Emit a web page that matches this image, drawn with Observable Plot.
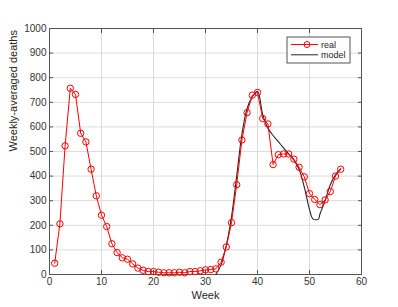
<!DOCTYPE html>
<html>
<head>
<meta charset="utf-8">
<script src="https://cdn.jsdelivr.net/npm/d3@7"></script>
<script src="https://cdn.jsdelivr.net/npm/@observablehq/plot@0.6"></script>
<style>
  html, body { margin: 0; padding: 0; background: #ffffff; }
  svg { display: block; }
</style>
</head>
<body>
<div id="chart"></div>
<script>
const realWeeks = [1,2,3,4,5,6,7,8,9,10,11,12,13,14,15,16,17,18,19,20,21,22,23,24,25,26,27,28,29,30,31,32,33,34,35,36,37,38,39,40,41,42,43,44,45,46,47,48,49,50,51,52,53,54,55,56];
const realDeaths = [46,206,523,757,732,574,539,428,320,241,195,125,89,68,62,43,26,17,12,12,9,7,7,7,9,7,12,12,15,19,20,23,50,112,211,365,547,658,729,740,634,612,447,487,490,490,469,436,397,329,305,284,303,337,400,428];
const modelWeeks = [32,33,34,35,36,37,38,39,40,41,42,43,44,45,46,47,48,49,50,50.7,51.7,52,53,54,55,56];
const modelDeaths = [0,40,118,235,400,570,675,722,745,650,595,565,540,515,490,465,428,355,265,225,225,245,300,365,405,430];
const xTicks = [0,10,20,30,40,50,60];
const yTicks = [0,100,200,300,400,500,600,700,800,900,1000];
const seriesNames = ["real","model"];
const seriesColors = ["#ff0000","#262626"];
const xLabel = "Week";
const yLabel = "Weekly-averaged deaths";

const real = realWeeks.map((w,i) => ({week: w, deaths: realDeaths[i]}));
const model = modelWeeks.map((w,i) => ({week: w, deaths: modelDeaths[i]}));

function legend(index, scales, values, dims) {
  const g = d3.create("svg:g")
    .attr("text-anchor", "start");
  const right = dims.width - dims.marginRight - 11;
  const top = dims.marginTop + 9;
  const w = 63, h = 26;
  g.append("rect").attr("x", right - w).attr("y", top).attr("width", w).attr("height", h)
    .attr("fill", "white").attr("stroke", "#555").attr("stroke-width", 1);
  seriesNames.forEach((name, i) => {
    const y = top + 7.5 + i * 10.3;
    const x0 = right - w + 4;
    g.append("line").attr("x1", x0).attr("x2", x0 + 27).attr("y1", y).attr("y2", y)
      .attr("stroke", seriesColors[i]).attr("stroke-width", 1);
    if (i === 0) {
      g.append("circle").attr("cx", x0 + 16).attr("cy", y).attr("r", 3)
        .attr("fill", "none").attr("stroke", seriesColors[i]).attr("stroke-width", 1);
    }
    g.append("text").attr("x", x0 + 30).attr("y", y).attr("dy", "0.35em")
      .attr("text-anchor", "start")
      .style("font-family", "Liberation Sans, Arial, sans-serif")
      .style("font-size", "9px")
      .attr("fill", "#262626").text(name);
  });
  return g.node();
}

const chart = Plot.plot({
  width: 398,
  height: 307,
  marginLeft: 49,
  marginRight: 37,
  marginTop: 28,
  marginBottom: 33,
  style: {fontFamily: "Liberation Sans, Arial, sans-serif", fontSize: "10px", color: "#262626", background: "white"},
  x: {domain: [0, 60]},
  y: {domain: [0, 1000]},
  marks: [
    Plot.gridX(xTicks, {stroke: "#dcdcdc", strokeOpacity: 1}),
    Plot.gridY(yTicks, {stroke: "#dcdcdc", strokeOpacity: 1}),
    Plot.axisX(xTicks, {tickSize: -4, tickPadding: 7, tickFormat: d => String(d), label: null, stroke: "#555", fill: "#333"}),
    Plot.axisX(xTicks, {anchor: "top", tickSize: -4, tickFormat: () => "", label: null, stroke: "#555"}),
    Plot.axisY(yTicks, {tickSize: -4, tickPadding: 7, tickFormat: d => String(d), label: null, stroke: "#555", fill: "#333"}),
    Plot.axisY(yTicks, {anchor: "right", tickSize: -4, tickFormat: () => "", label: null, stroke: "#555"}),
    Plot.frame({stroke: "#555", strokeWidth: 1}),
    Plot.text([xLabel], {frameAnchor: "bottom", dy: 24, fontSize: 11, fill: "#262626"}),
    Plot.text([yLabel], {frameAnchor: "left", rotate: -90, dx: -36, fontSize: 11, fill: "#262626"}),
    Plot.line(model, {x: "week", y: "deaths", stroke: seriesColors[1], strokeWidth: 1.1, curve: "catmull-rom"}),
    Plot.line(real, {x: "week", y: "deaths", stroke: seriesColors[0], strokeWidth: 1}),
    Plot.dot(real, {x: "week", y: "deaths", r: 3.2, stroke: seriesColors[0], strokeWidth: 1, fill: "none"}),
    legend
  ]
});
document.getElementById("chart").appendChild(chart);
</script>
</body>
</html>
